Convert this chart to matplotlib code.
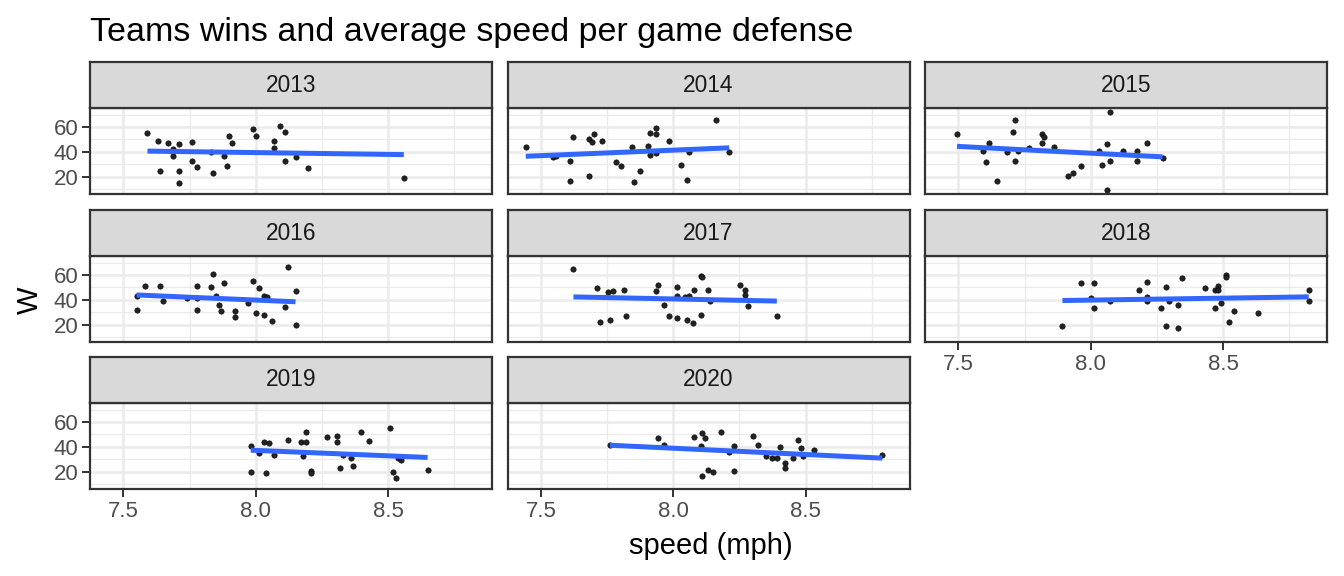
import numpy as np
import matplotlib
matplotlib.use("Agg")
import matplotlib.pyplot as plt

plt.rcParams["font.family"] = ["Liberation Sans", "DejaVu Sans"]

# speed (mph) and wins per season
speed_2013 = [7.591, 7.629, 7.670, 7.711, 7.689, 7.689, 7.640, 7.711, 7.711, 7.760,
              7.760, 7.779, 7.831, 7.839, 7.880, 7.891, 7.899, 7.910, 7.989, 8.000,
              8.068, 8.068, 8.090, 8.109, 8.109, 8.150, 8.199, 8.559]
w_2013 = [55.5, 49.0, 47.5, 46.7, 42.7, 36.3, 24.3, 24.3, 14.7, 48.3,
          33.0, 27.5, 39.5, 22.7, 37.0, 28.3, 53.0, 47.5, 58.7, 53.0,
          49.0, 43.5, 61.0, 56.3, 32.3, 35.5, 26.7, 18.7]

speed_2014 = [7.443, 7.544, 7.559, 7.611, 7.611, 7.623, 7.683, 7.694, 7.701, 7.683,
              7.731, 7.784, 7.803, 7.844, 7.851, 7.874, 7.904, 7.911, 7.911, 7.934,
              7.934, 7.934, 7.983, 8.031, 8.050, 8.061, 8.163, 8.211]
w_2014 = [44.3, 35.5, 36.8, 32.3, 16.3, 52.3, 50.7, 48.3, 54.7, 20.3,
          49.0, 31.5, 28.3, 44.3, 15.5, 24.3, 45.0, 55.5, 37.1, 59.5,
          54.7, 38.7, 49.0, 29.0, 17.0, 39.5, 65.9, 39.5]

speed_2015 = [7.495, 7.713, 7.705, 7.615, 7.593, 7.604, 7.645, 7.683, 7.724, 7.713,
              7.765, 7.814, 7.825, 7.814, 7.863, 7.915, 7.934, 7.964, 8.031, 8.043,
              8.061, 8.073, 8.073, 8.061, 8.121, 8.174, 8.174, 8.211, 8.271]
w_2015 = [54.7, 65.9, 56.3, 47.5, 41.1, 31.5, 16.3, 39.5, 41.1, 32.3,
          43.5, 54.7, 52.3, 47.5, 44.3, 20.3, 22.7, 28.3, 41.1, 29.0,
          46.7, 72.3, 32.3, 9.1, 40.3, 40.3, 32.3, 47.5, 34.7]

speed_2016 = [7.550, 7.550, 7.580, 7.640, 7.651, 7.741, 7.779, 7.779, 7.779, 7.831,
              7.839, 7.850, 7.861, 7.869, 7.880, 7.921, 7.921, 7.970, 7.989, 8.000,
              8.011, 8.030, 8.030, 8.041, 8.060, 8.109, 8.120, 8.150, 8.150]
w_2016 = [42.9, 31.7, 50.9, 50.9, 38.9, 41.3, 50.9, 41.3, 31.7, 50.1,
          61.3, 42.9, 35.7, 30.9, 53.3, 30.9, 26.1, 37.3, 54.9, 29.3,
          49.3, 42.9, 27.7, 42.1, 22.9, 34.1, 66.9, 46.9, 19.7]

speed_2017 = [7.623, 7.713, 7.724, 7.754, 7.761, 7.773, 7.814, 7.821, 7.934, 7.941,
              7.964, 7.983, 8.013, 8.013, 8.013, 8.043, 8.050, 8.061, 8.073, 8.080,
              8.103, 8.110, 8.103, 8.133, 8.140, 8.253, 8.271, 8.271, 8.283, 8.391]
w_2017 = [65.3, 49.3, 22.1, 46.1, 23.7, 46.9, 47.7, 26.9, 46.9, 51.7,
          35.7, 26.9, 50.1, 42.9, 25.3, 42.1, 23.7, 42.9, 21.3, 47.7,
          58.9, 58.1, 27.7, 47.7, 38.9, 51.7, 47.7, 43.7, 34.9, 26.9]

speed_2018 = [7.893, 7.964, 8.001, 8.013, 8.013, 8.073, 8.181, 8.211, 8.211, 8.211,
              8.264, 8.283, 8.283, 8.294, 8.331, 8.331, 8.343, 8.433, 8.470, 8.470,
              8.481, 8.481, 8.493, 8.511, 8.511, 8.523, 8.541, 8.631, 8.823, 8.823]
w_2018 = [18.9, 53.3, 41.3, 53.3, 33.3, 38.9, 47.7, 54.1, 42.1, 38.9,
          33.3, 50.1, 18.9, 38.9, 35.7, 17.3, 57.3, 49.3, 47.7, 33.3,
          50.9, 47.7, 37.3, 59.7, 58.1, 22.1, 30.9, 29.3, 47.7, 38.9]

speed_2019 = [7.981, 7.981, 8.011, 8.030, 8.038, 8.049, 8.068, 8.120, 8.169, 8.180,
              8.188, 8.188, 8.210, 8.210, 8.270, 8.308, 8.308, 8.319, 8.330, 8.360,
              8.368, 8.398, 8.428, 8.506, 8.518, 8.529, 8.536, 8.548, 8.649]
w_2019 = [40.5, 19.7, 34.9, 43.7, 18.9, 42.9, 33.3, 45.3, 43.7, 32.5,
          51.7, 43.7, 20.5, 18.9, 47.7, 48.5, 43.7, 22.9, 33.3, 30.9,
          24.5, 51.7, 44.5, 54.9, 19.7, 14.9, 30.9, 29.3, 21.3]

speed_2020 = [7.761, 7.941, 7.964, 8.080, 8.103, 8.110, 8.121, 8.110, 8.133, 8.151,
              8.181, 8.211, 8.230, 8.230, 8.301, 8.320, 8.350, 8.373, 8.391, 8.403,
              8.421, 8.421, 8.451, 8.470, 8.481, 8.489, 8.530, 8.789]
w_2020 = [41.3, 46.9, 41.3, 47.7, 40.5, 50.9, 46.9, 16.5, 21.3, 19.7,
          51.7, 35.7, 40.5, 20.5, 48.5, 41.3, 32.5, 30.9, 30.9, 39.7,
          26.9, 22.9, 30.9, 45.3, 38.9, 32.5, 37.3, 33.3]

years = [2013, 2014, 2015, 2016, 2017, 2018, 2019, 2020]
speeds = [speed_2013, speed_2014, speed_2015, speed_2016,
          speed_2017, speed_2018, speed_2019, speed_2020]
wins = [w_2013, w_2014, w_2015, w_2016, w_2017, w_2018, w_2019, w_2020]

x_ticks = [7.5, 8.0, 8.5]
x_minor = [7.25, 7.75, 8.25, 8.75]
y_ticks = [20, 40, 60]
y_minor = [10, 30, 50, 70]

W, H = 1344, 576
fig = plt.figure(figsize=(W / 100, H / 100), dpi=100)


def px_axes(left, top, width, height):
    return fig.add_axes([left / W, 1 - (top + height) / H, width / W, height / H])


# shared scales (5% expansion like ggplot)
all_x = np.concatenate([np.array(s) for s in speeds])
all_y = np.concatenate([np.array(w) for w in wins])
xpad = 0.05 * (all_x.max() - all_x.min())
ypad = 0.05 * (all_y.max() - all_y.min())
xlim = (all_x.min() - xpad, all_x.max() + xpad)
ylim = (all_y.min() - ypad, all_y.max() + ypad)

col_left = [90, 507.5, 925]
col_w = 402
row_top = [108, 256, 403]
panel_h = 86
strip_h = 46
txt_grey = "#4D4D4D"
border = "#333333"

for i, yr in enumerate(years):
    r, c = divmod(i, 3)
    ax = px_axes(col_left[c], row_top[r], col_w, panel_h)
    ax.set_xlim(*xlim)
    ax.set_ylim(*ylim)
    ax.set_facecolor("white")
    for v in x_minor:
        ax.axvline(v, color="#EBEBEB", lw=0.9, zorder=0)
    for v in x_ticks:
        ax.axvline(v, color="#EBEBEB", lw=1.8, zorder=0)
    for v in y_minor:
        ax.axhline(v, color="#EBEBEB", lw=0.9, zorder=0)
    for v in y_ticks:
        ax.axhline(v, color="#EBEBEB", lw=1.8, zorder=0)

    x = np.array(speeds[i])
    y = np.array(wins[i])
    ax.scatter(x, y, s=15, color="#222222", edgecolor="black", lw=0.4, zorder=2)
    k, b0 = np.polyfit(x, y, 1)
    xs = np.array([x.min(), x.max()])
    ax.plot(xs, k * xs + b0, color="#3366FF", lw=3.6, solid_capstyle="butt", zorder=3)

    for sp in ax.spines.values():
        sp.set_color(border)
        sp.set_linewidth(1.6)

    ax.set_xticks(x_ticks)
    ax.set_yticks(y_ticks)
    ax.tick_params(length=5.5, width=1.4, color=border, labelcolor=txt_grey,
                   labelsize=16, pad=3)
    # bottom-most panel in each column gets x labels
    if i in (5, 6, 7):
        ax.set_xticklabels(["7.5", "8.0", "8.5"])
    else:
        ax.tick_params(axis="x", length=0, labelbottom=False)
    if c == 0:
        ax.set_yticklabels([str(t) for t in y_ticks])
    else:
        ax.tick_params(axis="y", length=0, labelleft=False)

    st = px_axes(col_left[c], row_top[r] - strip_h, col_w, strip_h)
    st.set_facecolor("#D9D9D9")
    st.set_xticks([])
    st.set_yticks([])
    for sp in st.spines.values():
        sp.set_color(border)
        sp.set_linewidth(1.6)
    st.text(0.5, 0.5, str(yr), ha="center", va="center", fontsize=16.4,
            color="#1A1A1A", transform=st.transAxes)

fig.text(90 / W, 1 - 41 / H, "Teams wins and average speed per game defense",
         fontsize=24.5, color="black", ha="left", va="baseline")
fig.text(711 / W, 1 - 554 / H, "speed (mph)", fontsize=21, color="black",
         ha="center", va="baseline")
fig.text(30 / W, 1 - 300 / H, "W", fontsize=21, color="black", rotation=90,
         ha="center", va="center")

fig.savefig("out.png", dpi=100)
